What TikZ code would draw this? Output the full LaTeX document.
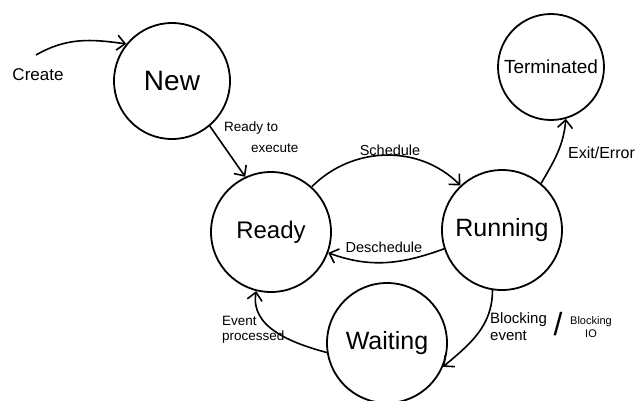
\documentclass[tikz,border=0pt]{standalone}
\usepackage{fontspec}
\setmainfont{Liberation Sans}
\usetikzlibrary{arrows.meta}
\begin{document}
\begin{tikzpicture}[x=1pt,y=-1pt,
  state/.style={circle,draw,line width=1.8pt,inner sep=0pt},
  trans/.style={line width=1.6pt,-{Straight Barb[length=8pt,width=15pt,line width=1.6pt]}},
  lbl/.style={inner sep=0pt,font=\fontsize{14.5}{16}\selectfont},
  small/.style={inner sep=0pt,font=\fontsize{13.5}{15}\selectfont}]
\useasboundingbox (0,0) rectangle (643,400);

% states
\node[state,minimum size=116pt,font=\fontsize{28}{30}\selectfont] (new) at (172,81) {New};
\node[state,minimum size=106pt,font=\fontsize{19}{21}\selectfont] (term) at (551,67) {Terminated};
\node[state,minimum size=120pt,font=\fontsize{24}{26}\selectfont] (ready) at (271,232) {Ready};
\node[state,minimum size=120pt,font=\fontsize{25}{27}\selectfont] (run) at (502,230) {Running};
\node[state,minimum size=120pt,font=\fontsize{25}{27}\selectfont] (wait) at (387,343) {Waiting};

% entry point
\coordinate (start) at (36,55);

% transitions
\draw[trans] (start) to[out=30,in=172] (new.141);
\draw[trans] (new.-50) -- (ready.115);
\draw[trans] (ready.48) to[out=45,in=135] (run.133);
\draw[trans] (run.198) to[out=200,in=-20] (ready.-20);
\draw[trans] (run.50) to[out=60,in=-95] (term.-74);
\draw[trans] (run.-99) to[out=-90,in=40] (wait.-23);
\draw[trans] (wait.189) to[out=165,in=-100] (ready.256);

% labels
\node[inner sep=0pt,font=\fontsize{17}{19}\selectfont] (lcreate) at (38,75) {Create};
\node[small,anchor=west] (lready1) at (224,128) {Ready to};
\node[small,anchor=west] (lready2) at (251,148) {execute};
\node[lbl] (lsched) at (390,150) {Schedule};
\node[lbl] (ldesched) at (384,247) {Deschedule};
\node[inner sep=0pt,anchor=west,font=\fontsize{16}{18}\selectfont] (lexit) at (568,153) {Exit/Error};
\node[small,anchor=north west,align=left] (levent) at (222,316) {Event\\processed};
\node[inner sep=0pt,anchor=north west,align=left,font=\fontsize{15}{17}\selectfont] (lblock) at (490,312) {Blocking\\event};
\node[inner sep=0pt,font=\fontsize{32}{32}\selectfont] (lslash) at (558,324) {/};
\node[inner sep=0pt,align=center,font=\fontsize{11}{13}\selectfont] (lio) at (591,327) {Blocking\\IO};
\end{tikzpicture}
\end{document}
